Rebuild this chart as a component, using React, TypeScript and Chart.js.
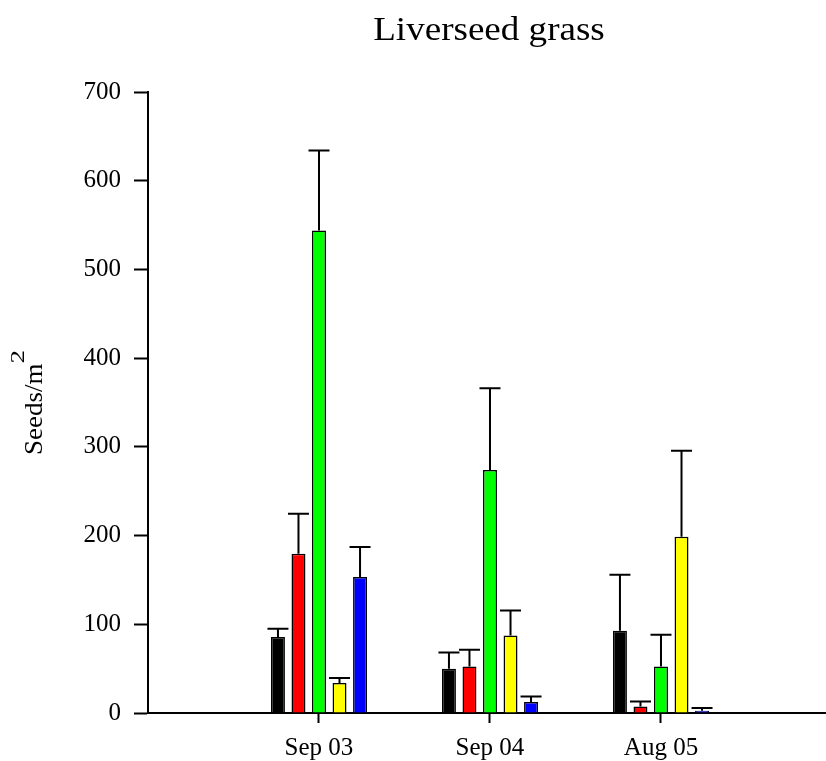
import React, { useEffect, useRef } from 'react';
import { Chart, registerables } from 'chart.js';

Chart.register(...registerables);

// Sampling dates and their positions on the x axis
const categories = ['Sep 03', 'Sep 04', 'Aug 05'];
const categoryPositions = [1, 2, 3];

// Seed bank means (seeds/m2) and upper standard errors, one array per treatment
const blackMeans = [85.6, 49.9, 92.7];
const blackErrors = [9.3, 18.3, 63.0];
const redMeans = [179.6, 52.5, 7.4];
const redErrors = [44.9, 18.8, 5.7];
const greenMeans = [544, 274, 52.5];
const greenErrors = [90, 92, 35.7];
const yellowMeans = [33.8, 87.4, 198.6];
const yellowErrors = [5.6, 28.1, 97];
const blueMeans = [153.2, 12.4, 2.6];
const blueErrors = [33.8, 6.3, 3.0];

const yTicks = [0, 100, 200, 300, 400, 500, 600, 700];

const titleText = 'Liverseed grass';
const yTitleMain = 'Seeds/m';
const yTitleSup = '2';

const SERIF = '"Liberation Serif", "Times New Roman", Times, serif';

const WIDTH = 826;
const HEIGHT = 761;

const series = [
  { means: blackMeans, errors: blackErrors, color: '#000000' },
  { means: redMeans, errors: redErrors, color: '#ff0000' },
  { means: greenMeans, errors: greenErrors, color: '#00ff00' },
  { means: yellowMeans, errors: yellowErrors, color: '#ffff00' },
  { means: blueMeans, errors: blueErrors, color: '#0000ff' },
];

// Upper error whiskers with a flat cap
const errorBarPlugin = {
  id: 'errorBars',
  afterDatasetsDraw(chart: any) {
    const { ctx } = chart;
    const yScale = chart.scales.y;
    chart.data.datasets.forEach((ds: any, i: number) => {
      const meta = chart.getDatasetMeta(i);
      meta.data.forEach((bar: any, j: number) => {
        const mean = ds.data[j].y;
        const top = yScale.getPixelForValue(mean + ds.errors[j]);
        ctx.save();
        ctx.strokeStyle = '#000';
        ctx.lineWidth = 2;
        ctx.beginPath();
        ctx.moveTo(bar.x, bar.y);
        ctx.lineTo(bar.x, top);
        ctx.moveTo(bar.x - 10.5, top);
        ctx.lineTo(bar.x + 10.5, top);
        ctx.stroke();
        ctx.restore();
      });
    });
  },
};

// Title centred over the plot area and the y-axis title with a raised exponent
const labelsPlugin = {
  id: 'chartLabels',
  afterDraw(chart: any) {
    const { ctx, chartArea } = chart;
    ctx.save();
    ctx.fillStyle = '#000';
    ctx.textBaseline = 'alphabetic';

    // slightly wide serif title
    ctx.save();
    ctx.font = `34px ${SERIF}`;
    ctx.textAlign = 'center';
    ctx.translate((chartArea.left + chartArea.right) / 2 + 2, 40);
    ctx.scale(1.09, 1);
    ctx.fillText(titleText, 0, 0);
    ctx.restore();

    const mainFont = `25px ${SERIF}`;
    const supFont = `18px ${SERIF}`;
    const mainStretch = 1.08;
    const supStretch = 1.5;
    ctx.font = mainFont;
    const w1 = ctx.measureText(yTitleMain).width * mainStretch;
    ctx.font = supFont;
    const w2 = ctx.measureText(yTitleSup).width * supStretch;
    const cy = (chartArea.top + chartArea.bottom) / 2;
    ctx.translate(42, cy + (w1 + w2) / 2);
    ctx.rotate(-Math.PI / 2);
    ctx.textAlign = 'left';

    ctx.save();
    ctx.scale(mainStretch, 1);
    ctx.font = mainFont;
    ctx.fillText(yTitleMain, 0, 0);
    ctx.restore();

    ctx.save();
    ctx.translate(w1, -18);
    ctx.scale(supStretch, 1);
    ctx.font = supFont;
    ctx.fillText(yTitleSup, 0, 0);
    ctx.restore();

    ctx.restore();
  },
};

export default function App() {
  const canvasRef = useRef<HTMLCanvasElement | null>(null);

  useEffect(() => {
    document.body.style.margin = '0';
    const canvas = canvasRef.current;
    if (!canvas) return;

    const datasets = series.map((s) => ({
      data: categoryPositions.map((x, i) => ({ x, y: s.means[i] })),
      errors: s.errors,
      backgroundColor: s.color,
      borderColor: '#000000',
      borderWidth: 1.5,
      categoryPercentage: 0.6,
      barPercentage: 0.68,
    }));

    const chart = new Chart(canvas, {
      type: 'bar',
      data: { datasets } as any,
      options: {
        responsive: false,
        animation: false,
        layout: { padding: { top: 92, right: 0, left: 0, bottom: 0 } },
        plugins: {
          legend: { display: false },
          tooltip: { enabled: false },
          title: { display: false },
        },
        scales: {
          x: {
            type: 'linear',
            min: 0,
            max: 3.965,
            offset: false,
            afterBuildTicks: (scale: any) => {
              scale.ticks = categoryPositions.map((v) => ({ value: v }));
            },
            afterFit: (scale: any) => {
              scale.height = HEIGHT - 713;
            },
            ticks: {
              autoSkip: false,
              maxRotation: 0,
              padding: 10,
              color: '#000',
              font: { family: SERIF, size: 25 },
              callback: (value: any) => {
                const idx = categoryPositions.indexOf(Number(value));
                return idx >= 0 ? categories[idx] : '';
              },
            },
            grid: {
              display: true,
              drawOnChartArea: false,
              drawTicks: true,
              tickLength: 10,
              tickColor: '#000',
              tickWidth: 2,
              offset: false,
            },
            border: { display: true, color: '#000', width: 2 },
          },
          y: {
            min: 0,
            max: 700,
            afterBuildTicks: (scale: any) => {
              scale.ticks = yTicks.map((v) => ({ value: v }));
            },
            afterFit: (scale: any) => {
              scale.width = 148;
            },
            ticks: {
              padding: 13,
              color: '#000',
              font: { family: SERIF, size: 25 },
            },
            grid: {
              display: true,
              drawOnChartArea: false,
              drawTicks: true,
              tickLength: 14,
              tickColor: '#000',
              tickWidth: 2,
            },
            border: { display: true, color: '#000', width: 2 },
          },
        },
      } as any,
      plugins: [errorBarPlugin, labelsPlugin],
    });

    return () => chart.destroy();
  }, []);

  return (
    <div style={{ width: WIDTH, height: HEIGHT, overflow: 'hidden' }}>
      <canvas ref={canvasRef} width={WIDTH} height={HEIGHT} style={{ display: 'block' }} />
    </div>
  );
}
